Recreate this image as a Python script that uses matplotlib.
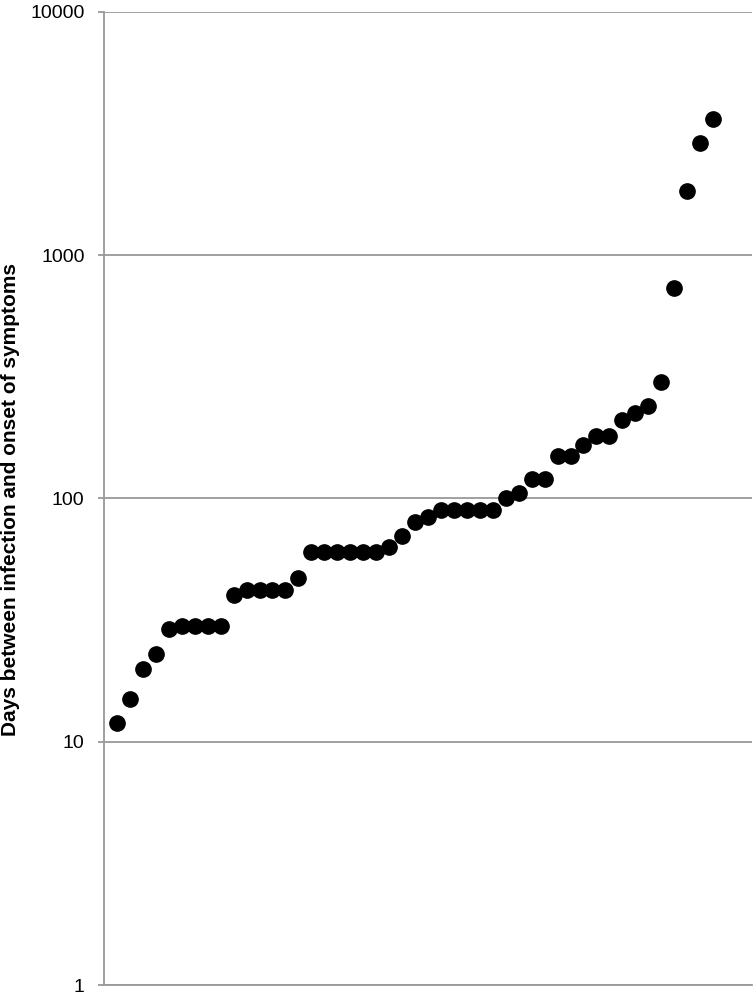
import numpy as np
import matplotlib.pyplot as plt

plt.rcParams['font.family'] = ['Liberation Sans', 'DejaVu Sans']

# one point per case, sorted by incubation time
case = np.arange(1, 48)
days = [12, 15, 20, 23, 29, 30, 30, 30, 30, 40, 42, 42, 42, 42, 47,
        60, 60, 60, 60, 60, 60, 63, 70, 80, 84, 90, 90, 90, 90, 90,
        100, 105, 120, 120, 150, 150, 166, 180, 180, 210, 225, 240,
        300, 733, 1833, 2890, 3625]
yticks = [1, 10, 100, 1000, 10000]

fig = plt.figure(figsize=(7.56, 9.96), dpi=100)
ax = fig.add_axes([0.1376, 0.011, 0.857, 0.977])

ax.plot(case, days, 'o', color='black', ms=11, zorder=3)

ax.set_yscale('log')
ax.set_ylim(1, 10000)
ax.set_xlim(0, 50)
ax.set_yticks(yticks)
ax.set_yticklabels([str(t) for t in yticks], fontsize=14)
ax.yaxis.set_minor_locator(plt.NullLocator())
ax.set_xticks([])
ax.grid(axis='y', color='#999999', lw=1.3)

for s in ['top', 'right']:
    ax.spines[s].set_visible(False)
ax.spines['left'].set_color('#999999')
ax.spines['left'].set_linewidth(1.3)
ax.spines['bottom'].set_color('#999999')
ax.spines['bottom'].set_linewidth(1.3)
ax.tick_params(axis='y', color='#999999', width=1.3, length=4.5, pad=9.5)

fig.text(11 / 756, 0.498, 'Days between infection and onset of symptoms',
         rotation=90, ha='center', va='center',
         fontsize=15, fontweight='bold')

fig.savefig('out.png')
